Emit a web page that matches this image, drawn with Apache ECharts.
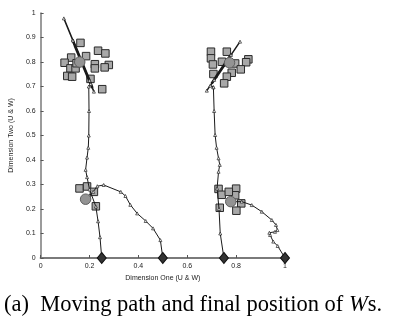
<!DOCTYPE html>
<html>
<head>
<meta charset="utf-8">
<script src="https://cdn.jsdelivr.net/npm/echarts@6/dist/echarts.min.js"></script>
<style>html,body{margin:0;padding:0;background:#fff}#c{width:398px;height:322px}</style>
</head>
<body>
<div id="c"></div>
<script>
// ---- data ----
var xTicks = ['0', '0.2', '0.4', '0.6', '0.8', '1'];
var yTicks = ['0', '0.1', '0.2', '0.3', '0.4', '0.5', '0.6', '0.7', '0.8', '0.9', '1'];
var xName = 'Dimension One (U & W)';
var yName = 'Dimension Two (U & W)';

var squaresUL = [[0.163,0.878],[0.235,0.846],[0.265,0.835],[0.125,0.818],[0.186,0.824],[0.098,0.797],[0.222,0.791],[0.222,0.774],[0.279,0.788],[0.262,0.778],[0.122,0.774],[0.143,0.774],[0.109,0.743],[0.129,0.740],[0.204,0.731],[0.252,0.689],[0.147,0.795]];
var squaresLL = [[0.159,0.284],[0.19,0.292],[0.218,0.27],[0.226,0.211]];
var squaresUR = [[0.697,0.842],[0.697,0.815],[0.705,0.79],[0.762,0.842],[0.742,0.801],[0.796,0.794],[0.85,0.811],[0.841,0.799],[0.819,0.77],[0.782,0.756],[0.707,0.751],[0.762,0.74],[0.751,0.713]];
var squaresLR = [[0.728,0.282],[0.741,0.258],[0.733,0.205],[0.80,0.283],[0.796,0.256],[0.821,0.223],[0.801,0.193],[0.77,0.27]];

// moving paths: rise part, thin swing along the final diagonal, and the dense (thick) swing
var path1 = [[0.25,0],[0.243,0.085],[0.235,0.15],[0.226,0.21],[0.2,0.28],[0.19,0.33],[0.184,0.36],[0.19,0.41],[0.195,0.45],[0.197,0.5],[0.198,0.6],[0.197,0.7],[0.205,0.71]];
var swing1 = [[0.205,0.71],[0.132,0.888],[0.218,0.679],[0.095,0.978],[0.2,0.724]];
var dense1 = [[0.212,0.694],[0.13,0.892],[0.2,0.724],[0.135,0.88],[0.193,0.739],[0.14,0.866],[0.187,0.754],[0.147,0.85],[0.181,0.769],[0.153,0.836],[0.175,0.784],[0.163,0.813],[0.16,0.8]];
var path2 = [[0.5,0],[0.49,0.073],[0.46,0.121],[0.43,0.151],[0.395,0.182],[0.367,0.217],[0.347,0.253],[0.328,0.27],[0.258,0.298],[0.232,0.293],[0.215,0.27],[0.2,0.255],[0.184,0.24]];
var path3 = [[0.75,0],[0.735,0.1],[0.73,0.2],[0.722,0.284],[0.728,0.352],[0.733,0.38],[0.728,0.407],[0.72,0.45],[0.714,0.502],[0.71,0.6],[0.707,0.697]];
var swing3 = [[0.707,0.697],[0.694,0.703],[0.779,0.829],[0.68,0.683],[0.816,0.883],[0.71,0.727]];
var dense3 = [[0.7,0.712],[0.782,0.834],[0.71,0.727],[0.775,0.823],[0.716,0.737],[0.768,0.813],[0.721,0.743],[0.762,0.803],[0.728,0.753],[0.755,0.793],[0.734,0.763],[0.748,0.783],[0.773,0.797]];
var path4 = [[1,0],[0.97,0.049],[0.952,0.067],[0.939,0.094],[0.936,0.103],[0.959,0.107],[0.969,0.114],[0.963,0.135],[0.946,0.155],[0.905,0.189],[0.864,0.216],[0.823,0.23],[0.778,0.23]];

var finalW = [[0.16,0.8],[0.184,0.24],[0.773,0.797],[0.778,0.23]];
var startW = [[0.25,0],[0.5,0],[0.75,0],[1,0]];

// ---- chart ----
var chart = echarts.init(document.getElementById('c'), null, {renderer: 'canvas'});
var sans = 'Liberation Sans';
function pathSeries(d, w, sym) {
  return {
    type: 'line', data: d, symbol: 'triangle', symbolSize: sym, showSymbol: sym > 0,
    lineStyle: {color: '#1a1a1a', width: w},
    itemStyle: {color: '#fff', borderColor: '#222', borderWidth: 0.7},
    z: 3
  };
}
function squareSeries(d) {
  return {
    type: 'scatter', data: d, symbol: 'rect', symbolSize: 7.5,
    itemStyle: {color: '#a8a8a8', borderColor: '#2a2a2a', borderWidth: 1, opacity: 1},
    z: 2
  };
}
var series = [];
[squaresUL, squaresLL, squaresUR, squaresLR].forEach(function (s) { series.push(squareSeries(s)); });
[path1, path2, path3, path4].forEach(function (p) { series.push(pathSeries(p, 1, 3)); });
[swing1, swing3].forEach(function (p) { series.push(pathSeries(p, 1.5, 3)); });
[dense1, dense3].forEach(function (p) { series.push(pathSeries(p, 2.6, 0)); });
series.push({
  type: 'scatter', data: finalW, symbol: 'circle', symbolSize: 10.5,
  itemStyle: {color: '#939393', borderColor: '#5e5e5e', borderWidth: 1, opacity: 1}, z: 4
});
series.push({
  type: 'scatter', data: startW, symbol: 'diamond', symbolSize: [9, 11],
  itemStyle: {color: '#333', borderColor: '#111', borderWidth: 1, opacity: 1}, z: 5
});

chart.setOption({
  animation: false,
  backgroundColor: '#fff',
  grid: {left: 40, right: 113, top: 13, bottom: 64, containLabel: false},
  title: {
    text: '{a|(a)  Moving path and final position of }{i|W}{a|s.}',
    left: -1, top: 289,
    textStyle: {
      fontWeight: 'normal',
      rich: {
        a: {fontFamily: 'Liberation Serif', fontSize: 22.5, fontWeight: 'normal', color: '#000'},
        i: {fontFamily: 'Liberation Serif', fontSize: 22.5, fontWeight: 'normal', fontStyle: 'italic', color: '#000'}
      }
    }
  },
  xAxis: {
    type: 'value', min: 0, max: 1, interval: 0.2,
    name: xName, nameLocation: 'middle', nameGap: 13,
    nameTextStyle: {fontFamily: sans, fontSize: 7, color: '#222'},
    axisLine: {show: true, lineStyle: {color: '#7a7a7a', width: 2}},
    axisTick: {show: true, inside: true, length: 3, lineStyle: {color: '#555'}},
    axisLabel: {fontFamily: sans, fontSize: 7, color: '#222', margin: 5,
      formatter: function (v) { return xTicks[Math.round(v / 0.2)]; }},
    splitLine: {show: false}
  },
  yAxis: {
    type: 'value', min: 0, max: 1, interval: 0.1,
    name: yName, nameLocation: 'middle', nameGap: 23,
    nameTextStyle: {fontFamily: sans, fontSize: 7, color: '#222'},
    axisLine: {show: true, lineStyle: {color: '#7a7a7a', width: 1.5}},
    axisTick: {show: true, inside: true, length: 3, lineStyle: {color: '#555'}},
    axisLabel: {fontFamily: sans, fontSize: 7, color: '#222', margin: 5,
      formatter: function (v) { return yTicks[Math.round(v / 0.1)]; }},
    splitLine: {show: false}
  },
  series: series
});
</script>
</body>
</html>
